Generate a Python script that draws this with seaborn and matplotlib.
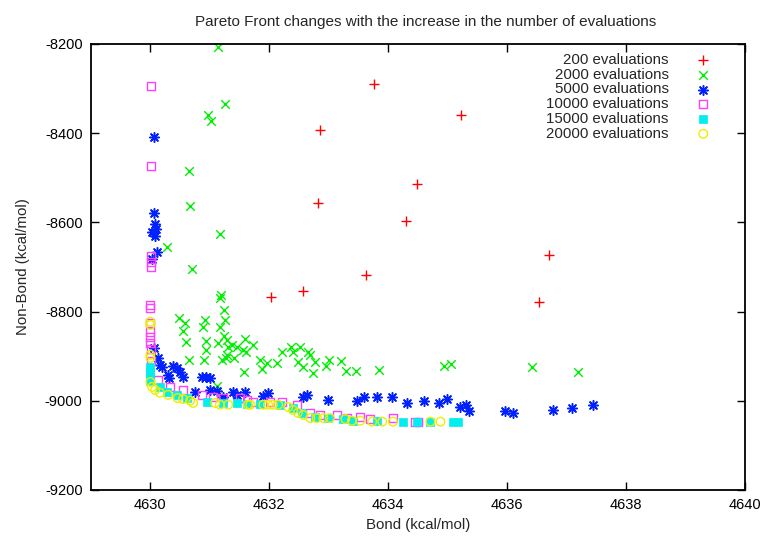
"""Pareto front changes with the number of evaluations"""
import matplotlib
matplotlib.use("Agg")
import matplotlib.pyplot as plt
import seaborn as sns

# 200 evaluations
x200 = [4633.76, 4635.23, 4632.86, 4634.49, 4632.82, 4634.30, 4633.63, 4636.71,
        4636.54, 4632.03, 4632.57]
y200 = [-8290, -8359, -8393, -8514, -8556, -8597, -8718, -8673, -8778, -8767, -8754]

# 2000 evaluations
x2000 = [4631.14, 4631.26, 4630.97, 4631.02, 4630.65, 4630.67, 4631.17, 4630.28,
         4630.70, 4631.17, 4631.19, 4631.24, 4630.48, 4630.58, 4630.55, 4630.92,
         4630.89, 4631.26, 4631.17, 4630.60, 4630.94, 4630.94, 4631.14, 4631.24,
         4631.29, 4631.31, 4631.37, 4631.46, 4631.29, 4631.27, 4631.41, 4631.59,
         4631.56, 4631.61, 4631.73, 4630.65, 4630.90, 4631.21, 4631.58, 4631.85,
         4631.96, 4631.88, 4632.13, 4632.22, 4632.37, 4632.40, 4632.52, 4632.48,
         4632.57, 4632.65, 4632.69, 4632.77, 4632.74, 4632.96, 4631.12, 4633.01,
         4633.21, 4633.29, 4633.46, 4633.85, 4634.94, 4635.06, 4636.42, 4637.20]
y2000 = [-8207, -8335, -8359, -8373, -8485, -8563, -8626, -8655,
         -8704, -8769, -8763, -8796, -8814, -8826, -8843, -8819,
         -8834, -8819, -8834, -8868, -8866, -8886, -8870, -8855,
         -8864, -8879, -8875, -8879, -8897, -8904, -8904, -8861,
         -8886, -8891, -8875, -8908, -8908, -8908, -8935, -8908,
         -8915, -8929, -8915, -8891, -8879, -8891, -8879, -8913,
         -8924, -8891, -8897, -8913, -8938, -8922, -8967, -8908,
         -8911, -8933, -8933, -8931, -8922, -8917, -8924, -8935]

# 5000 evaluations
x5000 = [4630.06, 4630.06, 4630.08, 4630.09, 4630.03, 4630.08, 4630.11, 4630.03,
         4630.06, 4630.13, 4630.16, 4630.20, 4630.30, 4630.31, 4630.38, 4630.45,
         4630.50, 4630.55, 4630.87, 4630.94, 4631.00, 4630.75, 4631.00, 4631.12,
         4631.22, 4631.39, 4631.46, 4631.59, 4631.90, 4631.98, 4632.57, 4632.64,
         4632.99, 4633.48, 4633.60, 4633.81, 4634.07, 4634.32, 4634.61, 4634.86,
         4634.99, 4635.21, 4635.31, 4635.36, 4635.97, 4636.10, 4636.78, 4637.10,
         4637.45]
y5000 = [-8409, -8579, -8604, -8615, -8622, -8630, -8666, -8682,
         -8882, -8904, -8920, -8924, -8942, -8949, -8922, -8926,
         -8935, -8947, -8947, -8947, -8949, -8980, -8976, -8978,
         -8991, -8980, -8987, -8980, -8989, -8982, -8991, -8987,
         -8998, -9000, -8991, -8991, -8991, -9005, -9000, -9005,
         -8996, -9014, -9009, -9023, -9023, -9027, -9021, -9016,
         -9009]

# 10000 evaluations
x10000 = [4630.01, 4630.01, 4630.01, 4630.01, 4630.01, 4630.00, 4630.00, 4630.00,
          4630.00, 4630.00, 4630.00, 4630.01, 4630.01, 4630.13, 4630.33, 4630.55,
          4630.87, 4631.05, 4631.22, 4631.51, 4631.63, 4631.73, 4632.01, 4632.22,
          4632.47, 4632.69, 4632.86, 4633.14, 4633.31, 4633.53, 4633.70, 4634.08,
          4634.45, 4634.51]
y10000 = [-8294, -8473, -8675, -8689, -8700, -8785, -8792, -8826,
          -8846, -8857, -8870, -8884, -8910, -8953, -8969, -8976,
          -8987, -8991, -8994, -8994, -8998, -9003, -9003, -9003,
          -9009, -9027, -9032, -9032, -9039, -9036, -9041, -9039,
          -9047, -9047]

# 15000 evaluations
x15000 = [4630.00, 4630.00, 4630.00, 4630.00, 4630.16, 4630.28, 4630.45, 4630.62,
          4630.95, 4631.22, 4631.46, 4631.63, 4631.85, 4632.18, 4632.40, 4632.55,
          4632.77, 4632.99, 4633.24, 4633.41, 4633.81, 4634.25, 4634.49, 4634.71,
          4635.09, 4635.18]
y15000 = [-8924, -8935, -8947, -8955, -8969, -8980, -8987, -8994,
          -9003, -9005, -9005, -9007, -9007, -9009, -9016, -9027,
          -9036, -9039, -9041, -9045, -9045, -9047, -9047, -9047,
          -9047, -9047]

# 20000 evaluations
x20000 = [4630.00, 4630.00, 4630.00, 4630.00, 4630.00, 4630.03, 4630.08, 4630.16,
          4630.30, 4630.46, 4630.55, 4630.67, 4630.72, 4631.09, 4631.17, 4631.31,
          4631.64, 4631.68, 4631.90, 4631.98, 4632.06, 4632.15, 4632.32, 4632.40,
          4632.48, 4632.57, 4632.69, 4632.80, 4632.91, 4633.02, 4633.28, 4633.39,
          4633.53, 4633.73, 4633.90, 4634.08, 4634.71, 4634.88]
y20000 = [-8823, -8830, -8897, -8904, -8958, -8969, -8976, -8982,
          -8987, -8994, -8996, -9000, -9005, -9005, -9009, -9009,
          -9009, -9009, -9009, -9009, -9009, -9009, -9014, -9021,
          -9027, -9032, -9039, -9039, -9039, -9039, -9041, -9045,
          -9045, -9047, -9047, -9047, -9047, -9047]

sns.set_style("ticks")
plt.rcParams["font.family"] = ["Liberation Sans", "DejaVu Sans"]
plt.rcParams["axes.unicode_minus"] = False

fig = plt.figure(figsize=(7.64, 5.36), dpi=100)
ax = fig.add_axes([0.119, 0.086, 0.856, 0.832])

sns.scatterplot(x=x200, y=y200, ax=ax, marker="+", color="#ff0000", s=45,
                linewidth=1, label="200 evaluations")
sns.scatterplot(x=x2000, y=y2000, ax=ax, marker="x", color="#00ee00", s=38,
                linewidth=1, label="2000 evaluations")
sns.scatterplot(x=x5000, y=y5000, ax=ax, marker=(8, 2, 0), color="#0020ff", s=48,
                linewidth=1.1, label="5000 evaluations")
sns.scatterplot(x=x10000, y=y10000, ax=ax, marker="s", color="#ff40ff",
                facecolor="none", edgecolor="#ff40ff", s=32, linewidth=1,
                label="10000 evaluations")
sns.scatterplot(x=x15000, y=y15000, ax=ax, marker="s", color="#00eeee",
                edgecolor="#00eeee", s=32, linewidth=0.5, label="15000 evaluations")
sns.scatterplot(x=x20000, y=y20000, ax=ax, marker="o", color="#ffff00",
                facecolor="none", edgecolor="#eeee00", s=38, linewidth=1,
                label="20000 evaluations")

ax.set_xlim(4629, 4640)
ax.set_ylim(-9200, -8200)
ax.set_xticks(range(4630, 4641, 2))
ax.set_yticks(range(-9200, -8199, 200))
ax.tick_params(direction="in", top=True, right=True, length=6, width=1,
               labelsize=10.5, colors="black", pad=6)
for sp in ax.spines.values():
    sp.set_linewidth(1.3)
    sp.set_color("black")

ax.set_title("Pareto Front changes with the increase in the number of evaluations",
             fontsize=11, pad=13, x=0.512)
ax.set_xlabel("Bond (kcal/mol)", fontsize=10.8, labelpad=4)
ax.set_ylabel("Non-Bond (kcal/mol)", fontsize=10.8, labelpad=11)

ax.legend(loc="upper right", markerfirst=False, frameon=False, fontsize=10.8,
          labelspacing=0.05, handletextpad=1.3, borderaxespad=0.2,
          bbox_to_anchor=(0.973, 1.0))

fig.savefig("out.png", dpi=100)
